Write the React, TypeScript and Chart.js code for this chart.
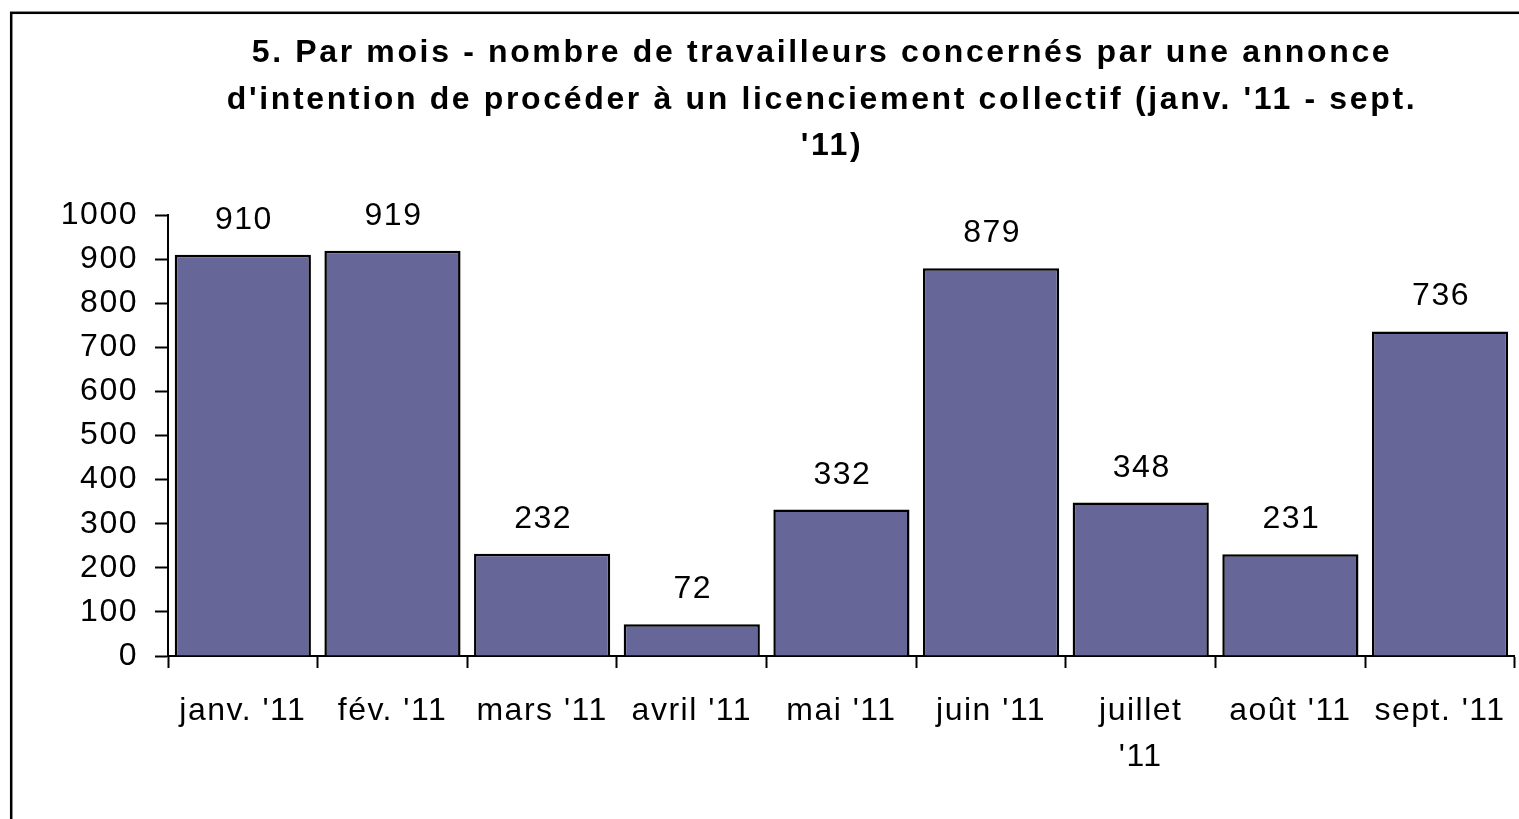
import React, { useEffect, useRef } from "react";
import { Chart, registerables } from "chart.js";

Chart.register(...registerables);

const categories: (string | string[])[] = [
  "janv. '11",
  "fév. '11",
  "mars '11",
  "avril '11",
  "mai '11",
  "juin '11",
  ["juillet", "'11"],
  "août '11",
  "sept. '11",
];
const values: number[] = [910, 919, 232, 72, 332, 879, 348, 231, 736];
const titleLines: string[] = [
  "5. Par mois - nombre de travailleurs concernés par une annonce",
  "d'intention de procéder à un licenciement collectif (janv. '11 - sept.",
  "'11)",
];
const yMax = 1000;
const yStep = 100;

const FONT = "'Liberation Sans', Arial, Helvetica, sans-serif";

const framePlugin = {
  id: "frame",
  beforeDraw(chart: any) {
    const ctx = chart.ctx;
    ctx.save();
    ctx.fillStyle = "#ffffff";
    ctx.fillRect(0, 0, chart.width, chart.height);
    ctx.strokeStyle = "#000000";
    ctx.lineWidth = 2.5;
    ctx.strokeRect(11.2, 12.8, 1700, 1000);
    ctx.restore();
    ctx.letterSpacing = "1.5px";
  },
};

const titlePlugin = {
  id: "customTitle",
  afterDraw(chart: any) {
    const ctx = chart.ctx;
    ctx.save();
    ctx.fillStyle = "#000000";
    ctx.font = `bold 32px ${FONT}`;
    ctx.letterSpacing = "2.65px";
    ctx.textAlign = "center";
    ctx.textBaseline = "alphabetic";
    const baselines = [62, 108.7, 155.4];
    const centers = [822, 822, 832];
    titleLines.forEach((line, i) => {
      ctx.fillText(line, centers[i], baselines[i]);
    });
    ctx.restore();
  },
};

const valueLabelPlugin = {
  id: "valueLabels",
  afterDatasetsDraw(chart: any) {
    const ctx = chart.ctx;
    const meta = chart.getDatasetMeta(0);
    ctx.save();
    ctx.fillStyle = "#000000";
    ctx.font = `32px ${FONT}`;
    ctx.letterSpacing = "1.5px";
    ctx.textAlign = "center";
    ctx.textBaseline = "alphabetic";
    meta.data.forEach((bar: any, i: number) => {
      ctx.fillText(String(values[i]), bar.x + 1, bar.y - 26);
    });
    ctx.restore();
  },
};

export default function App() {
  const canvasRef = useRef<HTMLCanvasElement | null>(null);

  useEffect(() => {
    if (!canvasRef.current) return;
    const chart = new Chart(canvasRef.current, {
      type: "bar",
      data: {
        labels: categories as any,
        datasets: [
          {
            data: values,
            backgroundColor: "#666699",
            borderColor: "#000000",
            borderWidth: 2.5,
            barPercentage: 0.91,
            categoryPercentage: 1,
          },
        ],
      },
      options: {
        animation: false,
        responsive: false,
        maintainAspectRatio: false,
        layout: { padding: { left: 0, top: 215, right: 3, bottom: 0 } },
        plugins: {
          legend: { display: false },
          title: { display: false },
          tooltip: { enabled: false },
        },
        scales: {
          x: {
            grid: {
              display: true,
              drawOnChartArea: false,
              drawTicks: true,
              tickLength: 12,
              tickColor: "#000000",
              tickWidth: 2,
              offset: true,
            },
            border: { display: true, color: "#000000", width: 2 },
            ticks: {
              color: "#000000",
              font: { family: FONT, size: 32, lineHeight: 1.45 },
              padding: 20,
              maxRotation: 0,
              autoSkip: false,
            },
            afterFit: (scale: any) => {
              scale.height = 819 - 656;
            },
          },
          y: {
            min: 0,
            max: yMax,
            grid: {
              display: true,
              drawOnChartArea: false,
              drawTicks: true,
              tickLength: 13,
              tickColor: "#000000",
              tickWidth: 2,
            },
            border: { display: true, color: "#000000", width: 2 },
            ticks: {
              stepSize: yStep,
              color: "#000000",
              font: { family: FONT, size: 32 },
              padding: 17,
              callback: (v: any) => String(v),
            },
            afterFit: (scale: any) => {
              scale.width = 168;
            },
          },
        },
      },
      plugins: [framePlugin, titlePlugin, valueLabelPlugin],
    });
    return () => chart.destroy();
  }, []);

  return (
    <div
      style={{
        position: "fixed",
        left: 0,
        top: 0,
        width: 1519,
        height: 819,
        overflow: "hidden",
        background: "#fff",
      }}
    >
      <canvas ref={canvasRef} width={1519} height={819} style={{ display: "block" }} />
    </div>
  );
}
